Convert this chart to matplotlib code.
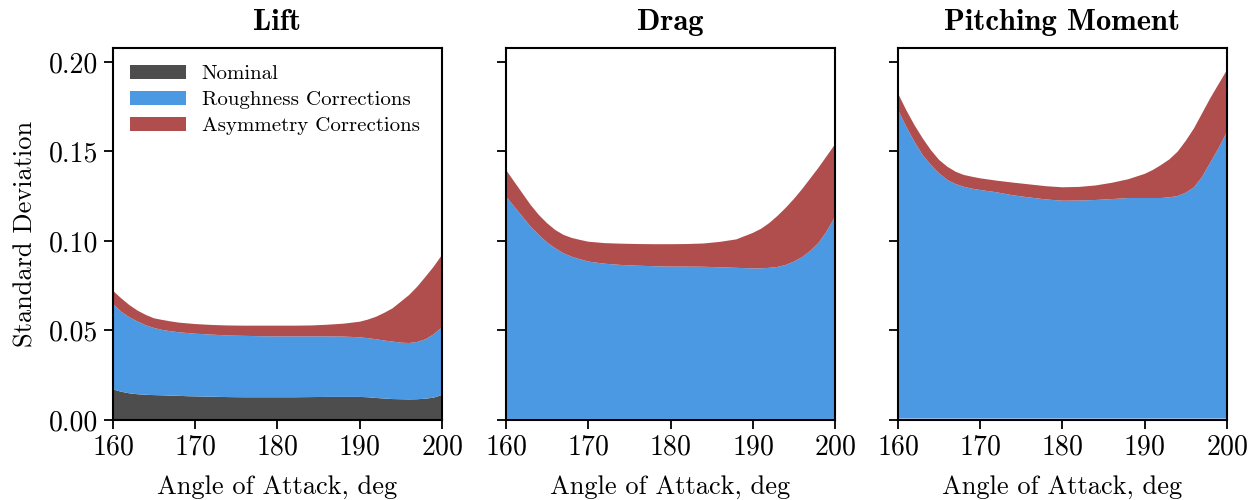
import numpy as np
import matplotlib
matplotlib.use("Agg")
import matplotlib.pyplot as plt

plt.rcParams['font.family'] = ['cmr10', 'DejaVu Serif']
plt.rcParams['axes.formatter.use_mathtext'] = True
plt.rcParams['mathtext.fontset'] = 'cm'

# angle of attack, deg
aoa = [160, 161, 162, 163, 164, 165, 166, 167, 168, 169, 170,
       172, 174, 176, 178, 180, 182, 184, 186, 188,
       190, 191, 192, 193, 194, 195, 196, 197, 198, 199, 200]

# cumulative tops (nominal, +roughness, +asymmetry)
lift_nom = [0.0171, 0.0158, 0.0149, 0.0144, 0.0141, 0.0139, 0.0138, 0.0136, 0.0135, 0.0133, 0.0132,
            0.0130, 0.0128, 0.0127, 0.0127, 0.0127, 0.0127, 0.0128, 0.0129, 0.0129,
            0.0129, 0.0127, 0.0123, 0.0120, 0.0117, 0.0116, 0.0115, 0.0116, 0.0119, 0.0125, 0.0140]
lift_rough = [0.0648, 0.0605, 0.0574, 0.0550, 0.0529, 0.0514, 0.0503, 0.0496, 0.0490, 0.0486, 0.0482,
              0.0477, 0.0472, 0.0470, 0.0468, 0.0467, 0.0467, 0.0467, 0.0467, 0.0466,
              0.0462, 0.0457, 0.0451, 0.0444, 0.0438, 0.0432, 0.0430, 0.0436, 0.0451, 0.0479, 0.0518]
lift_asym = [0.0722, 0.0680, 0.0642, 0.0611, 0.0587, 0.0568, 0.0559, 0.0551, 0.0544, 0.0540, 0.0536,
             0.0531, 0.0528, 0.0527, 0.0527, 0.0527, 0.0527, 0.0528, 0.0532, 0.0538,
             0.0549, 0.0561, 0.0577, 0.0599, 0.0624, 0.0661, 0.0698, 0.0745, 0.0800, 0.0857, 0.0922]

drag_nom = [0.0006] * len(aoa)
drag_rough = [0.1248, 0.1192, 0.1136, 0.1080, 0.1034, 0.0991, 0.0959, 0.0931, 0.0912, 0.0898, 0.0885,
              0.0873, 0.0866, 0.0862, 0.0859, 0.0857, 0.0857, 0.0856, 0.0853, 0.0850,
              0.0847, 0.0847, 0.0850, 0.0855, 0.0866, 0.0885, 0.0910, 0.0945, 0.0990, 0.1055, 0.1136]
drag_asym = [0.1397, 0.1331, 0.1266, 0.1201, 0.1145, 0.1099, 0.1061, 0.1034, 0.1017, 0.1006, 0.0996,
             0.0988, 0.0985, 0.0983, 0.0982, 0.0982, 0.0983, 0.0986, 0.0995, 0.1009,
             0.1045, 0.1068, 0.1100, 0.1140, 0.1185, 0.1235, 0.1290, 0.1350, 0.1410, 0.1475, 0.1540]

pm_nom = [0.0008] * len(aoa)
pm_rough = [0.1732, 0.1639, 0.1555, 0.1480, 0.1425, 0.1378, 0.1341, 0.1318, 0.1303, 0.1292, 0.1285,
            0.1272, 0.1255, 0.1243, 0.1232, 0.1225, 0.1226, 0.1229, 0.1234, 0.1240,
            0.1240, 0.1240, 0.1240, 0.1244, 0.1251, 0.1270, 0.1300, 0.1360, 0.1440, 0.1520, 0.1611]
pm_asym = [0.1825, 0.1732, 0.1648, 0.1574, 0.1508, 0.1453, 0.1415, 0.1387, 0.1369, 0.1359, 0.1350,
           0.1337, 0.1326, 0.1316, 0.1306, 0.1300, 0.1302, 0.1310, 0.1325, 0.1345,
           0.1375, 0.1397, 0.1425, 0.1456, 0.1499, 0.1560, 0.1630, 0.1715, 0.1800, 0.1878, 0.1955]

titles = ['Lift', 'Drag', 'Pitching Moment']
labels = ['Nominal', 'Roughness Corrections', 'Asymmetry Corrections']
colors = ['#4d4d4d', '#4c99e3', '#b04e4e']
panels = [(lift_nom, lift_rough, lift_asym),
          (drag_nom, drag_rough, drag_asym),
          (pm_nom, pm_rough, pm_asym)]

fig = plt.figure(figsize=(12.51, 5.0), dpi=100)
lefts = [0.0903, 0.4045, 0.7178]
axes = []
for i in range(3):
    ax = fig.add_axes([lefts[i], 0.16, 0.263, 0.744])
    axes.append(ax)
    nom, rough, asym = [np.array(a) for a in panels[i]]
    layers = [nom, rough - nom, asym - rough]
    ax.stackplot(aoa, layers, colors=colors, labels=labels, linewidth=0)
    ax.set_xlim(160, 200)
    ax.set_ylim(0, 0.2078)
    ax.set_xticks([160, 170, 180, 190, 200])
    ax.set_yticks([0.00, 0.05, 0.10, 0.15, 0.20])
    ax.yaxis.set_major_formatter(matplotlib.ticker.FormatStrFormatter('%.2f'))
    ax.tick_params(labelsize=20, width=1.3, length=6.5, pad=4)
    for s in ax.spines.values():
        s.set_linewidth(1.5)
    ax.set_title(titles[i], fontsize=22, family='cmb10', pad=13)
    ax.set_xlabel('Angle of Attack, deg', fontsize=19, labelpad=10)
    if i > 0:
        ax.tick_params(labelleft=False)

axes[0].set_ylabel('Standard Deviation', fontsize=19, labelpad=8)
axes[0].legend(loc='upper left', fontsize=15, frameon=False, handlelength=2.7,
               handleheight=0.7, handletextpad=0.75, labelspacing=0.36,
               borderaxespad=0.5, borderpad=0.3)

plt.savefig('out.png', dpi=100)
